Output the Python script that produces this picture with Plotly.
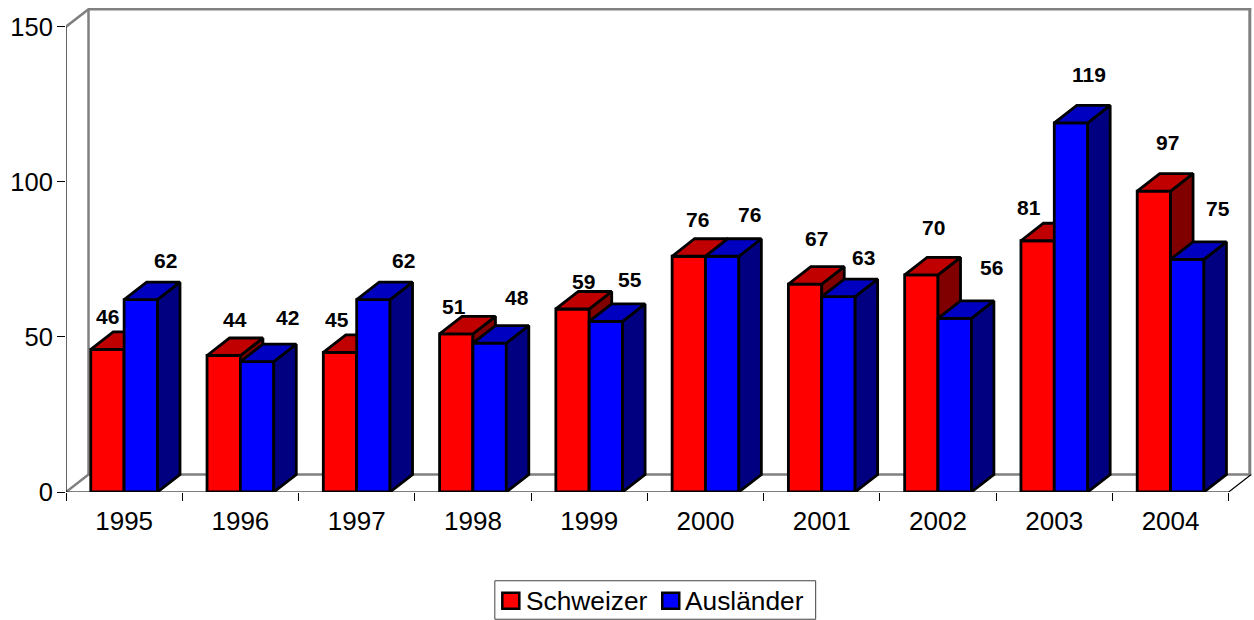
import plotly.graph_objects as go

years = ["1995", "1996", "1997", "1998", "1999", "2000", "2001", "2002", "2003", "2004"]
schweizer = [46, 44, 45, 51, 59, 76, 67, 70, 81, 97]
auslaender = [62, 42, 62, 48, 55, 76, 63, 56, 119, 75]
legend_names = ["Schweizer", "Ausländer"]

# label offsets (pixels, relative to the top centre of the front face)
red_shift = [(0, 31.7), (11.7, 35), (-2.6, 31.9), (-2, 26.2), (10.7, 26.4),
             (8.4, 35.6), (11.1, 44.6), (11.8, 46.3), (-8.5, 32.1), (14.1, 47.5)]
blue_shift = [(24.6, 38), (30.3, 44), (30, 38), (27.7, 44.5), (24.4, 40.8),
              (27, 40.6), (24.7, 38), (36.4, 49.7), (18.1, 47.2), (30.8, 49.8)]

BAR_W = 0.287
DX = 0.1935   # oblique depth, category units
DY = 5.64     # oblique depth, value units
N = len(years)
X_MAX = 10.209
Y_MAX = 156.35
FONT = "Liberation Sans, Arial, sans-serif"
GRAY = "#808080"
EDGE = 2.8
WIDTH, HEIGHT = 1254, 620
M_L, M_R, M_T, M_B = 65.5, 1, 7, 127.8
PW = WIDTH - M_L - M_R
PH = HEIGHT - M_T - M_B


def px(v):
    return (v - M_L) / PW


def py(v):
    return (HEIGHT - M_B - v) / PH


def faces(values, left):
    top_x, top_y, side_x, side_y = [], [], [], []
    for i, v in enumerate(values):
        x0 = i + left
        x1 = x0 + BAR_W
        top_x += [x0, x1, x1 + DX, x0 + DX, x0, None]
        top_y += [v, v, v + DY, v + DY, v, None]
        side_x += [x1, x1 + DX, x1 + DX, x1, x1, None]
        side_y += [0, DY, v + DY, v, 0, None]
    return top_x, top_y, side_x, side_y


def add_series(fig, name, values, left, front, top, side, xa, ya):
    cx = [i + left + BAR_W / 2 for i in range(N)]
    fig.add_trace(go.Bar(x=cx, y=values, width=BAR_W, marker=dict(color=front, line=dict(color="black", width=EDGE)),
                         showlegend=False, cliponaxis=False, xaxis=xa, yaxis=ya, name=name))
    tx, ty, sx, sy = faces(values, left)
    for fx, fy, col in ((sx, sy, side), (tx, ty, top)):
        fig.add_trace(go.Scatter(x=fx, y=fy, mode="lines", fill="toself", fillcolor=col,
                                 line=dict(color="black", width=EDGE), showlegend=False,
                                 cliponaxis=False, xaxis=xa, yaxis=ya, hoverinfo="skip"))


fig = go.Figure()

# chart walls (gray) and axis lines (black)
wall_x = [0, DX, N + DX, None, 0, DX, N + DX, None, DX, DX]
wall_y = [150, 150 + DY, 150 + DY, None, 0, DY, DY, None, 150 + DY, DY]
fig.add_trace(go.Scatter(x=wall_x, y=wall_y, mode="lines", line=dict(color=GRAY, width=2.5),
                         showlegend=False, cliponaxis=False, hoverinfo="skip"))
axis_x = [0, 0, N, N + DX]
axis_y = [150, 0, 0, DY]
fig.add_trace(go.Scatter(x=axis_x, y=axis_y, mode="lines", line=dict(color="black", width=1.2),
                         showlegend=False, cliponaxis=False, hoverinfo="skip"))

left_red = 0.5 - BAR_W
left_blue = 0.5
add_series(fig, legend_names[0], schweizer, left_red, "#FF0000", "#C00000", "#800000", "x2", "y2")
add_series(fig, legend_names[1], auslaender, left_blue, "#0000FF", "#0000C0", "#000080", "x3", "y3")

annotations = []
for vals, left, shifts in ((schweizer, left_red, red_shift), (auslaender, left_blue, blue_shift)):
    for i, v in enumerate(vals):
        annotations.append(dict(x=i + left + BAR_W / 2, y=v, xref="x", yref="y", text="<b>%d</b>" % v, showarrow=False,
                                xshift=shifts[i][0], yshift=shifts[i][1] + 0.7,
                                font=dict(family=FONT, size=21, color="black"), xanchor="center", yanchor="middle"))

# right wall edge, then the framed legend with square swatches and real text
shapes = [dict(type="line", xref="paper", yref="paper", x0=px(1249.8), x1=px(1249.8), y0=py(8), y1=py(474.5),
               line=dict(color=GRAY, width=3), layer="above"),
          dict(type="rect", xref="paper", yref="paper", x0=px(494.5), x1=px(815.5), y0=py(619.5), y1=py(581),
               line=dict(color="#404040", width=1), fillcolor="white", layer="above")]
for name, col, sw_left, tx_left in zip(legend_names, ("#FF0000", "#0000FF"), (502, 662), (523.5, 682.5)):
    shapes.append(dict(type="rect", xref="paper", yref="paper", x0=px(sw_left), x1=px(sw_left + 17), y0=py(609), y1=py(593),
                       line=dict(color="black", width=2.5), fillcolor=col, layer="above"))
    annotations.append(dict(x=px(tx_left), y=py(601), xref="paper", yref="paper", text=name, showarrow=False,
                            font=dict(family=FONT, size=26.3, color="black"), xanchor="left", yanchor="middle"))

fig.update_layout(
    width=WIDTH, height=HEIGHT, autosize=False,
    margin=dict(l=M_L, r=M_R, t=M_T, b=M_B, pad=0),
    paper_bgcolor="white", plot_bgcolor="white",
    barmode="overlay", font=dict(family=FONT, size=26, color="black"),
    annotations=annotations, shapes=shapes, showlegend=False,
    xaxis=dict(range=[0, X_MAX], tickmode="array", tickvals=[i + 0.5 for i in range(N)], ticktext=years,
               showgrid=False, zeroline=False, showline=False,
               ticks="", ticklabelstandoff=11, tickfont=dict(size=26),
               minor=dict(tickmode="array", tickvals=list(range(N + 1)), ticks="outside", ticklen=8,
                          tickcolor="black", tickwidth=1, showgrid=False)),
    yaxis=dict(range=[0, Y_MAX], tickmode="array", tickvals=[0, 50, 100, 150], showgrid=False, zeroline=False,
               showline=False, ticks="outside", ticklen=8, tickcolor="black",
               tickwidth=1, ticklabelstandoff=-1, tickfont=dict(size=25.5)),
    xaxis2=dict(range=[0, X_MAX], overlaying="x", visible=False),
    yaxis2=dict(range=[0, Y_MAX], overlaying="y", visible=False),
    xaxis3=dict(range=[0, X_MAX], overlaying="x", visible=False),
    yaxis3=dict(range=[0, Y_MAX], overlaying="y", visible=False),
)

fig.write_html("out.html", config=dict(displayModeBar=False), post_script="document.body.style.margin='0';")
